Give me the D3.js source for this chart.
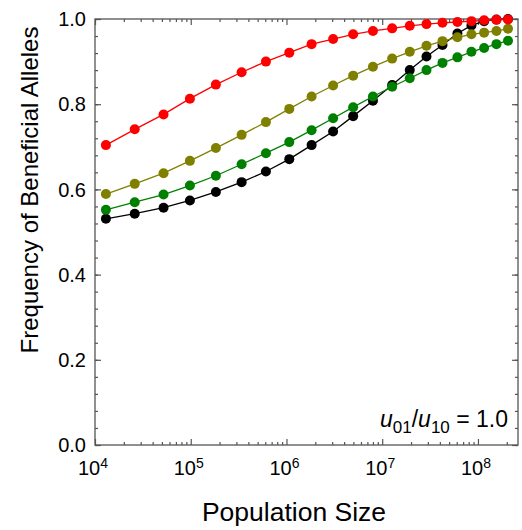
<!DOCTYPE html>
<html>
<head>
<meta charset="utf-8">
<script src="https://cdn.jsdelivr.net/npm/d3@7"></script>
<style>
  body { margin: 0; background: #fff; }
  svg text { font-family: "Liberation Sans", Arial, sans-serif; fill: #000; }
</style>
</head>
<body>
<div class="chart"></div>
<script>
// population sizes
const popSize = [1.3e4, 2.6e4, 5.2e4, 9.8e4, 1.83e5, 3.4e5, 6.1e5, 1.07e6, 1.83e6, 3.07e6,
    4.97e6, 8.0e6, 1.27e7, 1.94e7, 2.9e7, 4.26e7, 6.1e7, 8.55e7, 1.16e8, 1.56e8, 2.06e8];

const blackVals = [0.531, 0.543, 0.557, 0.574, 0.594, 0.617, 0.642, 0.671, 0.704, 0.736,
    0.772, 0.808, 0.845, 0.880, 0.912, 0.939, 0.966, 0.985, 0.995, 0.999, 1.0];
const greenVals = [0.552, 0.570, 0.588, 0.609, 0.632, 0.659, 0.685, 0.711, 0.739, 0.767,
    0.793, 0.818, 0.841, 0.861, 0.880, 0.897, 0.910, 0.923, 0.932, 0.941, 0.949];
const oliveVals = [0.589, 0.613, 0.638, 0.667, 0.697, 0.728, 0.758, 0.789, 0.818, 0.844,
    0.867, 0.888, 0.907, 0.923, 0.937, 0.948, 0.957, 0.964, 0.968, 0.972, 0.977];
const redVals = [0.704, 0.741, 0.776, 0.813, 0.846, 0.875, 0.900, 0.921, 0.941, 0.953,
    0.964, 0.972, 0.978, 0.984, 0.988, 0.991, 0.993, 0.995, 0.997, 0.998, 0.999];

const seriesColors = ["#000000", "#008000", "#808000", "#ff0000"];
const seriesVals = [blackVals, greenVals, oliveVals, redVals];

const xMajor = [1e4, 1e5, 1e6, 1e7, 1e8];
const xMinor = [];
for (const d of [1e4, 1e5, 1e6, 1e7, 1e8]) {
    for (let k = 2; k <= 9; k++) {
        if (k * d <= 2.6e8) xMinor.push(k * d);
    }
}
const yMajor = [0, 0.2, 0.4, 0.6, 0.8, 1.0];
const yMinor = d3.range(0, 1.0001, 0.04);

const width = 522;
const height = 530;
const margin = { left: 95, top: 19, right: 4, bottom: 85 };

const svg = d3.select("div.chart")
    .append("svg")
    .attr("width", width)
    .attr("height", height);

const x = d3.scaleLog().domain([1e4, 2.62e8]).range([margin.left, width - margin.right]);
const y = d3.scaleLinear().domain([0, 1]).range([height - margin.bottom, margin.top]);

const axisColor = "#555";
const plotW = width - margin.right - margin.left;
const plotH = height - margin.bottom - margin.top;

function styleAxis(g) {
    g.select(".domain").remove();
    g.selectAll(".tick line").attr("stroke", axisColor).attr("stroke-width", 1.2);
}

// bottom / top ticks (inward)
svg.append("g").attr("transform", `translate(0,${y(0)})`)
    .call(d3.axisBottom(x).tickValues(xMinor).tickSize(-3).tickFormat("")).call(styleAxis);
svg.append("g").attr("transform", `translate(0,${y(0)})`)
    .call(d3.axisBottom(x).tickValues(xMajor).tickSize(-6).tickFormat("")).call(styleAxis);
svg.append("g").attr("transform", `translate(0,${y(1)})`)
    .call(d3.axisTop(x).tickValues(xMinor).tickSize(-3).tickFormat("")).call(styleAxis);
svg.append("g").attr("transform", `translate(0,${y(1)})`)
    .call(d3.axisTop(x).tickValues(xMajor).tickSize(-6).tickFormat("")).call(styleAxis);

// left / right ticks (inward)
svg.append("g").attr("transform", `translate(${x.range()[0]},0)`)
    .call(d3.axisLeft(y).tickValues(yMinor).tickSize(-3).tickFormat("")).call(styleAxis);
svg.append("g").attr("transform", `translate(${x.range()[0]},0)`)
    .call(d3.axisLeft(y).tickValues(yMajor).tickSize(-6).tickFormat("")).call(styleAxis);
svg.append("g").attr("transform", `translate(${x.range()[1]},0)`)
    .call(d3.axisRight(y).tickValues(yMinor).tickSize(-3).tickFormat("")).call(styleAxis);
svg.append("g").attr("transform", `translate(${x.range()[1]},0)`)
    .call(d3.axisRight(y).tickValues(yMajor).tickSize(-6).tickFormat("")).call(styleAxis);

// frame
svg.append("rect")
    .attr("x", margin.left)
    .attr("y", margin.top)
    .attr("width", plotW)
    .attr("height", plotH)
    .attr("fill", "none")
    .attr("stroke", axisColor)
    .attr("stroke-width", 1.3);

// y tick labels
svg.append("g").selectAll("text")
    .data(yMajor)
    .enter()
    .append("text")
    .attr("x", margin.left - 9)
    .attr("y", d => y(d))
    .attr("dy", "0.36em")
    .attr("text-anchor", "end")
    .style("font-size", "20px")
    .text(d => d.toFixed(1));

// x tick labels 10^n
const xl = svg.append("g").selectAll("text")
    .data(xMajor)
    .enter()
    .append("text")
    .attr("x", d => x(d) - 2)
    .attr("y", y(0) + 30)
    .attr("text-anchor", "middle")
    .style("font-size", "20px");
xl.append("tspan").text("10");
xl.append("tspan").attr("dy", -7).style("font-size", "14px").text(d => Math.round(Math.log10(d)));

// series
const line = d3.line().x(d => x(d[0])).y(d => y(d[1]));
seriesVals.forEach(function (vals, i) {
    const pts = popSize.map((n, j) => [n, vals[j]]);
    const g = svg.append("g");
    g.append("path")
        .attr("d", line(pts))
        .attr("fill", "none")
        .attr("stroke", seriesColors[i])
        .attr("stroke-width", 1.3);
    g.selectAll("circle")
        .data(pts)
        .enter()
        .append("circle")
        .attr("cx", d => x(d[0]))
        .attr("cy", d => y(d[1]))
        .attr("r", 5)
        .attr("fill", seriesColors[i]);
});

// axis titles
svg.append("text")
    .attr("x", 294)
    .attr("y", 521)
    .attr("text-anchor", "middle")
    .style("font-size", "26.5px")
    .text("Population Size");

svg.append("text")
    .attr("transform", "translate(38,190) rotate(-90)")
    .attr("text-anchor", "middle")
    .style("font-size", "24px")
    .text("Frequency of Beneficial Alleles");

// annotation u01/u10 = 1.0
const ann = svg.append("text")
    .attr("x", 508)
    .attr("y", 427)
    .attr("text-anchor", "end")
    .style("font-size", "23px");
ann.append("tspan").style("font-style", "italic").text("u");
ann.append("tspan").attr("dy", 6).style("font-size", "17px").text("01");
ann.append("tspan").attr("dy", -6).text("/");
ann.append("tspan").style("font-style", "italic").text("u");
ann.append("tspan").attr("dy", 6).style("font-size", "17px").text("10");
ann.append("tspan").attr("dy", -6).text(" = 1.0");
</script>
</body>
</html>
